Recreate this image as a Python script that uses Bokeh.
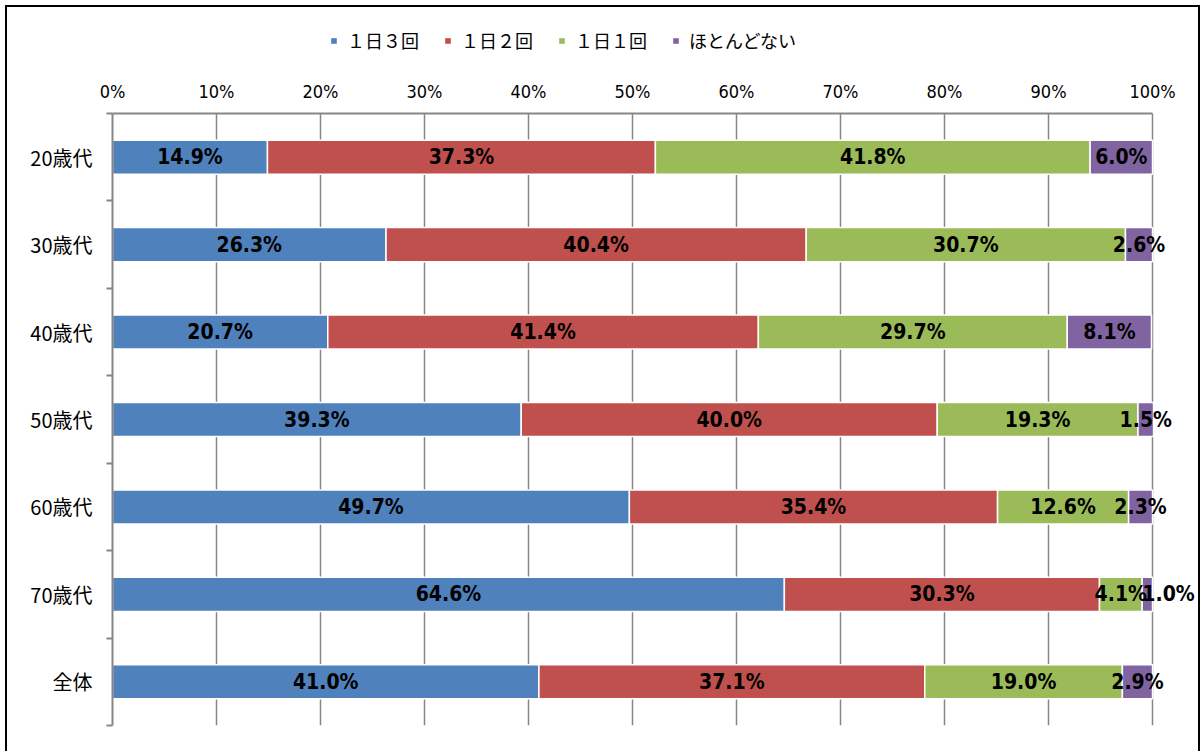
from bokeh.plotting import figure
from bokeh.models import (ColumnDataSource, Range1d, FixedTicker, Legend, LegendItem)
from bokeh.layouts import column
from bokeh.core.properties import value
from bokeh.embed import file_html
from bokeh.resources import INLINE

categories = ["20歳代", "30歳代", "40歳代", "50歳代", "60歳代", "70歳代", "全体"]
series_names = ["１日３回", "１日２回", "１日１回", "ほとんどない"]
s_three = [14.9, 26.3, 20.7, 39.3, 49.7, 64.6, 41.0]
s_two = [37.3, 40.4, 41.4, 40.0, 35.4, 30.3, 37.1]
s_one = [41.8, 30.7, 29.7, 19.3, 12.6, 4.1, 19.0]
s_rare = [6.0, 2.6, 8.1, 1.5, 2.3, 1.0, 2.9]
x_ticks = [0, 10, 20, 30, 40, 50, 60, 70, 80, 90, 100]
colors = ["#4F81BD", "#C0504D", "#9BBB59", "#8064A2"]

NUM_FONT = "'DejaVu Sans Condensed', sans-serif"
JP_FONT = "'Noto Sans CJK JP', sans-serif"

n = len(categories)
ys = [i + 0.5 for i in range(n)]
W = 1191
LEG_H = 60

# ---------- stacked data sources ----------
series = [s_three, s_two, s_one, s_rare]
sources = []
left = [0.0] * n
lab_x, lab_y, lab_t, lab_off = [], [], [], []
for k, vals in enumerate(series):
    right = [l + v for l, v in zip(left, vals)]
    sources.append(ColumnDataSource(dict(y=ys, left=left, right=right)))
    for i in range(n):
        narrow = vals[i] < 1.2
        lab_x.append(right[i] if narrow else (left[i] + right[i]) / 2)
        lab_off.append(16 if narrow else 0)
        lab_y.append(ys[i])
        lab_t.append(f"{vals[i]:.1f}%")
    left = right

# ---------- legend strip (bars out of its view; only the legend shows) ----------
lf = figure(width=W, height=LEG_H, output_backend="svg", toolbar_location=None,
            x_range=Range1d(0, 100), y_range=Range1d(100, 101),
            x_axis_location=None, y_axis_location=None,
            min_border_left=0, min_border_right=0,
            min_border_top=0, min_border_bottom=0)
lf.outline_line_color = None
lf.xgrid.grid_line_color = None
lf.ygrid.grid_line_color = None
lf.border_fill_color = "white"
leg_r = []
for k in range(4):
    leg_r.append(lf.hbar(y="y", left="left", right="right", height=0.39, source=sources[k],
                         fill_color=colors[k], line_color=None))
legend = Legend(items=[LegendItem(label=nm, renderers=[r]) for nm, r in zip(series_names, leg_r)],
                orientation="horizontal", location=(218, 14), padding=0, margin=0,
                glyph_width=7, glyph_height=7, label_standoff=10, spacing=25,
                label_text_font=JP_FONT, label_text_font_size="18px",
                label_text_color="black",
                border_line_color=None, background_fill_alpha=0)
lf.add_layout(legend, "center")

# ---------- main chart ----------
p = figure(width=W, height=744 - LEG_H, output_backend="svg", toolbar_location=None,
           x_range=Range1d(0, 104.42), y_range=Range1d(n, 0),
           x_axis_location="above",
           min_border_left=105, min_border_right=0, min_border_top=113 - 7 - LEG_H,
           min_border_bottom=26)
p.outline_line_color = None
p.background_fill_color = "white"
p.border_fill_color = "white"

xa = p.xaxis[0]
xa.ticker = FixedTicker(ticks=x_ticks)
xa.bounds = (0, 100)
xa.major_label_overrides = {t: f"{t}%" for t in x_ticks}
xa.major_label_text_font = NUM_FONT
xa.major_label_text_font_size = "18px"
xa.major_label_text_color = "black"
xa.major_tick_out = 0
xa.major_tick_in = 0
xa.minor_tick_out = 0
xa.minor_tick_in = 0
xa.axis_line_color = "#868686"
xa.axis_line_width = 2
xa.major_label_standoff = 12

ya = p.yaxis[0]
ya.ticker = FixedTicker(ticks=ys, minor_ticks=list(range(n + 1)))
ya.major_label_overrides = {y: c for y, c in zip(ys, categories)}
ya.major_label_text_font = JP_FONT
ya.major_label_text_font_size = "20px"
ya.major_label_text_color = "black"
ya.major_tick_out = 0
ya.major_tick_in = 0
ya.minor_tick_out = 6
ya.minor_tick_in = 0
ya.minor_tick_line_color = "#868686"
ya.minor_tick_line_width = 2
ya.axis_line_color = "#868686"
ya.axis_line_width = 2
ya.major_label_standoff = 14

p.xgrid.ticker = FixedTicker(ticks=x_ticks)
p.xgrid.grid_line_color = "#868686"
p.xgrid.grid_line_width = 1.5
p.ygrid.grid_line_color = None

for k in range(4):
    p.hbar(y="y", left="left", right="right", height=0.39, source=sources[k],
           fill_color=colors[k], line_color="white", line_width=1.5)

lsrc = ColumnDataSource(dict(x=lab_x, y=lab_y, t=lab_t, off=lab_off))
p.text(x="x", y="y", text="t", x_offset="off", source=lsrc,
       text_font=value(NUM_FONT), text_font_style="bold", text_font_size="21px",
       text_align="center", text_baseline="middle", text_color="black")

layout = column(lf, p, spacing=0)
layout.margin = (5, 0, 0, 5)
layout.styles = {"border-top": "2px solid black", "border-left": "2px solid black",
                 "border-right": "2px solid black", "background": "white"}

open("out.html", "w").write(file_html(layout, INLINE))
